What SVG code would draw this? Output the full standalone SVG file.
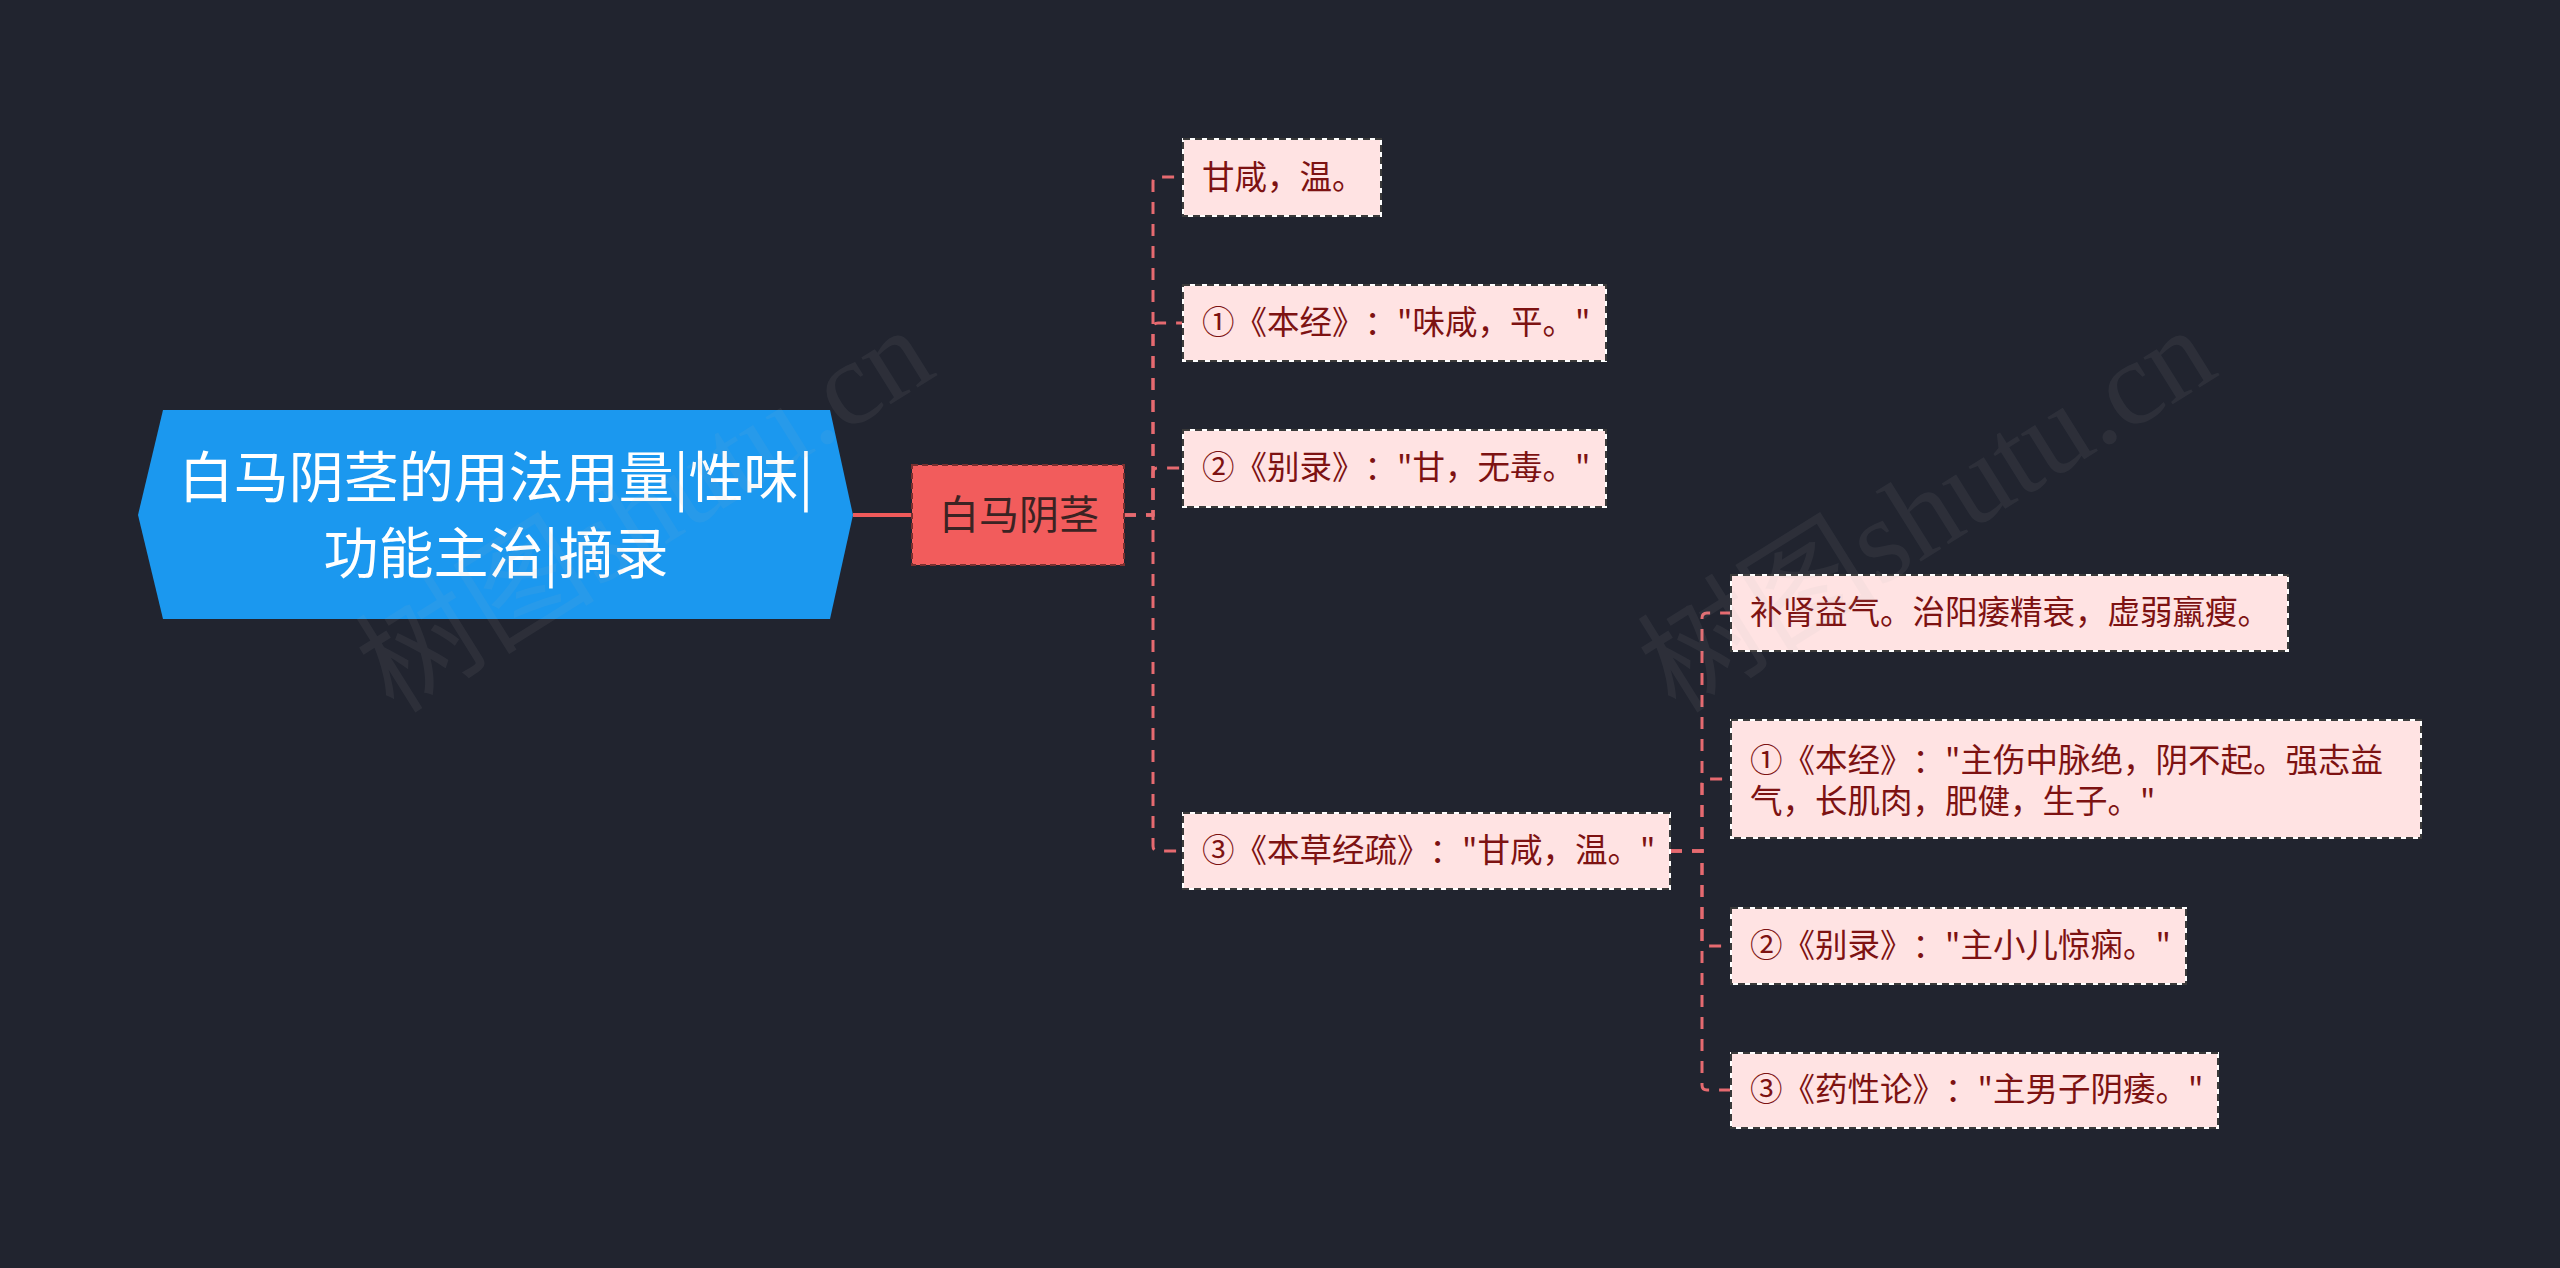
<svg xmlns="http://www.w3.org/2000/svg" width="2560" height="1268" viewBox="0 0 2560 1268">
<defs>
<style>
text{font-family:"Noto Sans CJK SC","Noto Sans",sans-serif;text-spacing-trim:space-all;}
.bg{fill:#21242f;}
.root{fill:#1b98ef;}
.roott{fill:#ffffff;font-size:55px;text-anchor:middle;}
.l1{fill:#f25c5c;stroke:#7a3030;stroke-width:2;stroke-dasharray:6 4;}
.l1t{fill:#3b2323;font-size:40px;text-anchor:middle;}
.boxw{fill:#ffe3e3;stroke:#ffffff;stroke-width:2;}
.boxd{fill:none;stroke:#3a3a3a;stroke-width:2;stroke-dasharray:7 5;}
.lt{fill:#7d1212;font-size:32.5px;}
.solid{fill:none;stroke:#f05a5a;stroke-width:4;}
.dash{fill:none;stroke:#e66a70;stroke-width:3;stroke-dasharray:12 10;}
.wm{font-family:"Liberation Serif","Noto Sans CJK SC",serif;fill:#b4b4b4;opacity:0.08;font-size:120px;text-anchor:middle;dominant-baseline:central;}
</style>
</defs>
<rect class="bg" x="0" y="0" width="2560" height="1268"/>

<g id="connectors">
<path class="solid" d="M853,515 H912"/>
<path class="dash" d="M1124,515 H1153 V182 Q1153,177 1158,177 H1183"/>
<path class="dash" d="M1124,515 H1153 V328 Q1153,323 1158,323 H1183"/>
<path class="dash" d="M1124,515 H1153 V473 Q1153,468 1158,468 H1183"/>
<path class="dash" d="M1124,515 H1153 V846 Q1153,851 1158,851 H1183"/>
<path class="dash" d="M1670,851 H1702 V618 Q1702,613 1707,613 H1731"/>
<path class="dash" d="M1670,851 H1702 V784 Q1702,779 1707,779 H1731"/>
<path class="dash" d="M1670,851 H1702 V941 Q1702,946 1707,946 H1731"/>
<path class="dash" d="M1670,851 H1702 V1085 Q1702,1090 1707,1090 H1731"/>
</g>

<g id="root">
<polygon class="root" points="138,515 163,410 830,410 853,515 830,619 163,619"/>
<text class="roott" x="496" y="497">白马阴茎的用法用量|性味|</text>
<text class="roott" x="496" y="573">功能主治|摘录</text>
</g>

<g id="n-baima">
<rect class="l1" x="912" y="465" width="212" height="100"/>
<text class="l1t" x="1019" y="529">白马阴茎</text>
</g>

<g id="n-a1">
<rect class="boxw" x="1183" y="139" width="198" height="77"/>
<rect class="boxd" x="1183" y="139" width="198" height="77"/>
<text class="lt" x="1202" y="189">甘咸，温。</text>
</g>

<g id="n-a2">
<rect class="boxw" x="1183" y="285" width="423" height="76"/>
<rect class="boxd" x="1183" y="285" width="423" height="76"/>
<text class="lt" x="1202" y="334">①《本经》："味咸，平。"</text>
</g>

<g id="n-a3">
<rect class="boxw" x="1183" y="430" width="423" height="77"/>
<rect class="boxd" x="1183" y="430" width="423" height="77"/>
<text class="lt" x="1202" y="479">②《别录》："甘，无毒。"</text>
</g>

<g id="n-a4">
<rect class="boxw" x="1183" y="813" width="487" height="76"/>
<rect class="boxd" x="1183" y="813" width="487" height="76"/>
<text class="lt" x="1202" y="862">③《本草经疏》："甘咸，温。"</text>
</g>

<g id="n-b1">
<rect class="boxw" x="1731" y="575" width="557" height="76"/>
<rect class="boxd" x="1731" y="575" width="557" height="76"/>
<text class="lt" x="1750" y="624">补肾益气。治阳痿精衰，虚弱羸瘦。</text>
</g>

<g id="n-b2">
<rect class="boxw" x="1731" y="720" width="690" height="118"/>
<rect class="boxd" x="1731" y="720" width="690" height="118"/>
<text class="lt" x="1750" y="772">①《本经》："主伤中脉绝，阴不起。强志益</text>
<text class="lt" x="1750" y="813">气，长肌肉，肥健，生子。"</text>
</g>

<g id="n-b3">
<rect class="boxw" x="1731" y="908" width="455" height="76"/>
<rect class="boxd" x="1731" y="908" width="455" height="76"/>
<text class="lt" x="1750" y="957">②《别录》："主小儿惊痫。"</text>
</g>

<g id="n-b4">
<rect class="boxw" x="1731" y="1053" width="487" height="75"/>
<rect class="boxd" x="1731" y="1053" width="487" height="75"/>
<text class="lt" x="1750" y="1101">③《药性论》："主男子阴痿。"</text>
</g>

<g id="watermark">
<text class="wm" x="645" y="510" transform="rotate(-32 645 510)">树图shutu.cn</text>
<text class="wm" x="1927" y="510" transform="rotate(-32 1927 510)">树图shutu.cn</text>
</g>
</svg>
